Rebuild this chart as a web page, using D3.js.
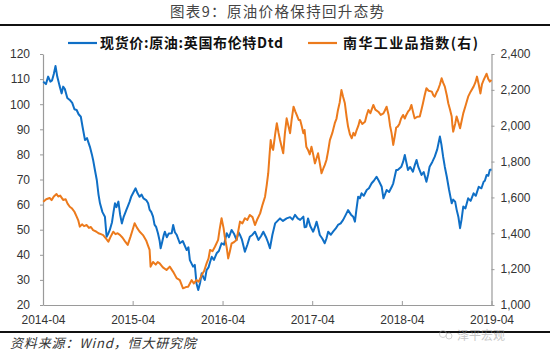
<!DOCTYPE html>
<html><head><meta charset="utf-8">
<script src="https://cdn.jsdelivr.net/npm/d3@7"></script>
<style>
html,body{margin:0;padding:0;background:#fff;}
svg{display:block;}
</style></head>
<body>
<svg id="chart" width="550" height="356"></svg>
<script>
// ---- data ----
const titleText = "图表9：原油价格保持回升态势";
const sourceText = "资料来源：Wind，恒大研究院";
const seriesNames = ["现货价:原油:英国布伦特Dtd", "南华工业品指数(右)"];
const xTickLabels = ["2014-04","2015-04","2016-04","2017-04","2018-04","2019-04"];
const leftTicks = [20,30,40,50,60,70,80,90,100,110,120];
const rightTicks = [1000,1200,1400,1600,1800,2000,2200,2400];

const brent = [["2014-04-02",109],["2014-04-13",108],["2014-04-22",111],["2014-05-01",109],["2014-05-08",109.5],["2014-05-15",112],["2014-05-22",115.2],["2014-05-29",111],["2014-06-07",107.5],["2014-06-16",104.3],["2014-06-22",107],["2014-06-29",106],["2014-07-09",102.5],["2014-07-19",101.7],["2014-07-29",100.5],["2014-08-07",98],["2014-08-16",97.7],["2014-08-24",96],["2014-09-02",95],["2014-09-09",91],["2014-09-19",85.7],["2014-09-27",86.5],["2014-10-09",83],["2014-10-17",80],["2014-10-22",77.8],["2014-10-29",74],["2014-11-06",69.8],["2014-11-13",64],["2014-11-19",60.5],["2014-11-29",57],["2014-12-09",55.2],["2014-12-16",47.2],["2014-12-23",48.5],["2014-12-29",49.9],["2015-01-07",53],["2015-01-13",57],["2015-01-19",60.5],["2015-01-25",59],["2015-02-02",61.2],["2015-02-09",56],["2015-02-16",52.5],["2015-02-23",55],["2015-03-01",56.5],["2015-03-06",57.8],["2015-03-13",59.5],["2015-03-19",61],["2015-03-26",63.1],["2015-04-05",65],["2015-04-13",66.5],["2015-04-21",64.5],["2015-04-29",63.1],["2015-05-07",64],["2015-05-15",62.5],["2015-05-26",61.8],["2015-06-03",60.5],["2015-06-09",58],["2015-06-16",57],["2015-06-23",55.2],["2015-06-29",52],["2015-07-06",51],["2015-07-13",48.6],["2015-07-20",45.5],["2015-07-24",42.6],["2015-07-30",45],["2015-08-06",48],["2015-08-10",49.2],["2015-08-18",47],["2015-08-26",48.5],["2015-09-07",48.6],["2015-09-13",51.9],["2015-09-20",49],["2015-09-27",48],["2015-10-10",44.6],["2015-10-22",45.5],["2015-11-07",41.9],["2015-11-14",43],["2015-11-20",37.9],["2015-12-03",35.3],["2015-12-10",36],["2015-12-17",28.6],["2015-12-24",26],["2016-01-01",29],["2016-01-07",32.6],["2016-01-14",31],["2016-01-20",30],["2016-01-27",33.9],["2016-02-04",35],["2016-02-10",37],["2016-02-17",39.2],["2016-02-26",38],["2016-03-08",40.6],["2016-03-17",41.5],["2016-03-28",44.6],["2016-04-07",44],["2016-04-18",48.6],["2016-04-27",47],["2016-05-08",49.9],["2016-05-17",48.5],["2016-05-28",45.9],["2016-06-05",49],["2016-06-11",47.9],["2016-06-19",46],["2016-07-01",41.2],["2016-07-11",44],["2016-07-21",47.2],["2016-08-01",48],["2016-08-11",49.2],["2016-08-25",45.9],["2016-09-05",47.5],["2016-09-14",49.2],["2016-09-25",47],["2016-10-03",45],["2016-10-11",42.6],["2016-10-21",48],["2016-11-01",52.5],["2016-11-11",53.5],["2016-11-21",54.5],["2016-12-03",53.5],["2016-12-18",54.5],["2017-01-01",55],["2017-01-11",54],["2017-01-21",55.9],["2017-02-01",54.5],["2017-02-11",53.9],["2017-02-24",55.2],["2017-03-01",51],["2017-03-08",51.2],["2017-03-15",54.5],["2017-03-24",51.5],["2017-04-05",49.2],["2017-04-12",51],["2017-04-19",53.2],["2017-04-26",50.5],["2017-05-02",47.9],["2017-05-12",46.5],["2017-05-22",44.6],["2017-05-29",46.5],["2017-06-05",49.2],["2017-06-16",48],["2017-06-25",49.2],["2017-07-06",50.5],["2017-07-15",51.9],["2017-07-26",52.5],["2017-08-05",53.9],["2017-08-16",56],["2017-08-25",57.8],["2017-09-06",56],["2017-09-15",55.2],["2017-09-22",53.2],["2017-09-28",58],["2017-10-05",63.1],["2017-10-12",62.5],["2017-10-19",64.5],["2017-10-28",63.5],["2017-11-09",65.8],["2017-11-18",66.5],["2017-11-29",68.5],["2017-12-08",69.5],["2017-12-19",71.1],["2017-12-28",69.5],["2018-01-09",67.1],["2018-01-16",62.5],["2018-01-22",64],["2018-01-29",65.8],["2018-02-08",65],["2018-02-19",67.1],["2018-02-25",68.5],["2018-03-09",73.8],["2018-03-15",73.8],["2018-03-30",75.1],["2018-04-06",77],["2018-04-13",79.8],["2018-04-19",77],["2018-04-26",73.8],["2018-05-05",75],["2018-05-16",73.1],["2018-05-23",75.5],["2018-05-31",77.8],["2018-06-07",75],["2018-06-20",71.8],["2018-06-29",73],["2018-07-10",69.1],["2018-07-17",72],["2018-07-23",75.1],["2018-08-03",77],["2018-08-13",79.1],["2018-08-23",82],["2018-09-03",87.1],["2018-09-09",84],["2018-09-16",79.1],["2018-09-23",75],["2018-10-01",71.1],["2018-10-10",66],["2018-10-21",60.5],["2018-10-27",62],["2018-11-04",61.2],["2018-11-10",58],["2018-11-17",55.2],["2018-11-24",50.6],["2018-11-30",54],["2018-12-07",59.2],["2018-12-16",58.5],["2018-12-27",62.5],["2019-01-06",61.5],["2019-01-18",64.5],["2019-01-27",63.5],["2019-02-08",67.1],["2019-02-19",66.5],["2019-02-28",69.1],["2019-03-05",69.5],["2019-03-12",71.8],["2019-03-19",71.5],["2019-03-25",73.8],["2019-04-01",74]];

const nanhua = [["2014-04-02",1576],["2014-04-14",1590],["2014-04-28",1597],["2014-05-06",1585],["2014-05-15",1605],["2014-05-26",1619],["2014-06-02",1605],["2014-06-10",1610],["2014-06-22",1586],["2014-07-02",1590],["2014-07-10",1565],["2014-07-19",1548],["2014-07-27",1540],["2014-08-07",1520],["2014-08-16",1493],["2014-08-23",1470],["2014-08-29",1437],["2014-09-07",1450],["2014-09-15",1440],["2014-09-26",1446],["2014-10-05",1430],["2014-10-13",1435],["2014-10-22",1418],["2014-11-03",1410],["2014-11-13",1400],["2014-11-23",1395],["2014-12-02",1390],["2014-12-11",1375],["2014-12-23",1353],["2015-01-01",1380],["2015-01-12",1409],["2015-01-21",1395],["2015-01-30",1400],["2015-02-09",1390],["2015-02-19",1375],["2015-03-01",1355],["2015-03-12",1335],["2015-03-23",1380],["2015-04-01",1420],["2015-04-09",1456],["2015-04-19",1430],["2015-04-29",1410],["2015-05-13",1390],["2015-05-26",1360],["2015-06-03",1330],["2015-06-09",1307],["2015-06-13",1214],["2015-06-23",1240],["2015-07-04",1225],["2015-07-12",1240],["2015-07-20",1232],["2015-08-02",1210],["2015-08-17",1195],["2015-08-30",1214],["2015-09-13",1185],["2015-09-27",1150],["2015-10-10",1139],["2015-10-23",1093],["2015-11-04",1100],["2015-11-13",1102],["2015-11-20",1120],["2015-11-27",1139],["2015-12-06",1120],["2015-12-17",1139],["2015-12-26",1130],["2016-01-07",1167],["2016-01-17",1190],["2016-01-27",1232],["2016-02-04",1260],["2016-02-10",1307],["2016-02-20",1300],["2016-03-01",1325],["2016-03-14",1363],["2016-03-20",1420],["2016-03-28",1484],["2016-04-05",1430],["2016-04-10",1381],["2016-04-18",1320],["2016-04-24",1260],["2016-05-01",1300],["2016-05-08",1344],["2016-05-17",1350],["2016-05-28",1363],["2016-06-05",1420],["2016-06-11",1465],["2016-06-21",1455],["2016-07-01",1484],["2016-07-11",1475],["2016-07-21",1502],["2016-08-01",1490],["2016-08-11",1446],["2016-08-21",1480],["2016-09-01",1511],["2016-09-11",1560],["2016-09-21",1604],["2016-09-28",1670],["2016-10-04",1735],["2016-10-09",1830],["2016-10-14",1920],["2016-10-19",1880],["2016-10-24",1865],["2016-11-01",1950],["2016-11-08",2014],["2016-11-15",1960],["2016-11-21",1920],["2016-11-28",1880],["2016-12-04",1846],["2016-12-11",1960],["2016-12-18",2041],["2016-12-25",2000],["2017-01-01",1958],["2017-01-07",2030],["2017-01-15",2106],["2017-01-22",2080],["2017-01-28",2060],["2017-02-05",2032],["2017-02-11",2032],["2017-02-17",2000],["2017-02-24",1958],["2017-03-01",1976],["2017-03-08",1883],["2017-03-15",1865],["2017-03-22",1840],["2017-03-29",1883],["2017-04-05",1840],["2017-04-12",1790],["2017-04-19",1820],["2017-04-25",1846],["2017-05-02",1790],["2017-05-09",1735],["2017-05-16",1760],["2017-05-22",1780],["2017-05-29",1809],["2017-06-05",1860],["2017-06-12",1920],["2017-06-22",1960],["2017-07-02",2014],["2017-07-09",2040],["2017-07-15",2088],["2017-07-22",2130],["2017-07-29",2199],["2017-08-05",2160],["2017-08-12",2125],["2017-08-19",2050],["2017-08-25",1995],["2017-09-02",1950],["2017-09-09",1930],["2017-09-16",1960],["2017-09-22",1945],["2017-09-29",1976],["2017-10-06",2000],["2017-10-12",2032],["2017-10-22",2010],["2017-11-02",2022],["2017-11-09",2060],["2017-11-16",2088],["2017-11-24",2070],["2017-12-06",2116],["2017-12-14",2090],["2017-12-26",2078],["2018-01-05",2060],["2018-01-16",2069],["2018-01-22",2085],["2018-01-29",2106],["2018-02-06",2060],["2018-02-12",2000],["2018-02-18",1960],["2018-02-25",1893],["2018-03-03",1940],["2018-03-09",1990],["2018-03-15",1995],["2018-03-22",2010],["2018-03-29",2040],["2018-04-06",2060],["2018-04-13",2040],["2018-04-19",2060],["2018-04-26",2078],["2018-05-03",2090],["2018-05-10",2116],["2018-05-16",2080],["2018-05-23",2041],["2018-06-03",2050],["2018-06-13",2051],["2018-06-20",2090],["2018-06-26",2125],["2018-07-03",2170],["2018-07-10",2209],["2018-07-19",2195],["2018-08-01",2190],["2018-08-07",2170],["2018-08-13",2162],["2018-08-20",2185],["2018-08-26",2199],["2018-09-03",2230],["2018-09-10",2265],["2018-09-16",2240],["2018-09-23",2218],["2018-10-01",2170],["2018-10-07",2125],["2018-10-14",2090],["2018-10-21",2051],["2018-10-24",2000],["2018-10-27",1967],["2018-11-04",2010],["2018-11-10",2051],["2018-11-17",2020],["2018-11-24",1986],["2018-12-01",2030],["2018-12-07",2069],["2018-12-16",2110],["2018-12-27",2162],["2019-01-06",2190],["2019-01-18",2218],["2019-01-25",2240],["2019-02-01",2274],["2019-02-08",2230],["2019-02-15",2180],["2019-02-21",2230],["2019-02-28",2255],["2019-03-05",2270],["2019-03-12",2290],["2019-03-19",2260],["2019-03-25",2246],["2019-04-01",2255]];

// ---- drawing ----
const parse = d3.timeParse("%Y-%m-%d");
const parseM = d3.timeParse("%Y-%m");
const svg = d3.select("#chart");
const BLUE = "#0F6FC6", ORANGE = "#EC7A1C", AXIS = "#9a9a9a";
const FONT = "'Liberation Sans', Arial, sans-serif";
const CJK = "'Noto Sans CJK SC', sans-serif";

const x = d3.scaleTime().domain([parseM("2014-04"), parseM("2019-04")]).range([43, 491.5]);
const yL = d3.scaleLinear().domain([20, 120]).range([305, 54]);
const yR = d3.scaleLinear().domain([1000, 2400]).range([305, 54]);

// title
svg.append("text").attr("x", 277).attr("y", 17).attr("text-anchor", "middle")
  .attr("font-family", CJK).attr("font-size", 14.5).attr("fill", "#444")
  .attr("textLength", 214).attr("lengthAdjust", "spacing").text(titleText);
svg.append("line").attr("x1", 0).attr("x2", 550).attr("y1", 25).attr("y2", 25)
  .attr("stroke", "#111").attr("stroke-width", 2);

// legend
const leg = [{x1: 68, x2: 97, tx: 100, tl: 183, c: BLUE, t: seriesNames[0]},
             {x1: 308, x2: 337, tx: 343, tl: 135, c: ORANGE, t: seriesNames[1]}];
leg.forEach(l => {
  svg.append("line").attr("x1", l.x1).attr("x2", l.x2).attr("y1", 43).attr("y2", 43)
    .attr("stroke", l.c).attr("stroke-width", 2.2);
  svg.append("text").attr("x", l.tx).attr("y", 48).attr("font-family", CJK)
    .attr("font-weight", "bold").attr("font-size", 14).attr("fill", "#111")
    .attr("textLength", l.tl).attr("lengthAdjust", "spacing").text(l.t);
});

// axes
const gL = svg.append("g").attr("transform", "translate(43,0)")
  .call(d3.axisLeft(yL).tickValues(leftTicks).tickSizeInner(3).tickSizeOuter(0).tickPadding(10));
const gR = svg.append("g").attr("transform", "translate(491.5,0)")
  .call(d3.axisRight(yR).tickValues(rightTicks).tickFormat(d3.format(",")).tickSizeInner(3).tickSizeOuter(0).tickPadding(6));
const gB = svg.append("g").attr("transform", "translate(0,305)")
  .call(d3.axisBottom(x).tickValues(xTickLabels.map(parseM)).tickFormat(d3.timeFormat("%Y-%m"))
    .tickSizeInner(-4).tickSizeOuter(0).tickPadding(10));
[gL, gR, gB].forEach(g => {
  g.select(".domain").attr("stroke", AXIS).attr("stroke-width", 1.2);
  g.selectAll(".tick line").attr("stroke", AXIS);
  g.selectAll("text").attr("font-family", FONT).attr("font-size", 12).attr("fill", "#333");
});

// lines
const lineL = d3.line().x(d => x(parse(d[0]))).y(d => yL(d[1]));
const lineR = d3.line().x(d => x(parse(d[0]))).y(d => yR(d[1]));
svg.append("path").datum(brent).attr("d", lineL).attr("fill", "none")
  .attr("stroke", BLUE).attr("stroke-width", 2).attr("stroke-linejoin", "round");
svg.append("path").datum(nanhua).attr("d", lineR).attr("fill", "none")
  .attr("stroke", ORANGE).attr("stroke-width", 2).attr("stroke-linejoin", "round");

// bottom rule + source
svg.append("line").attr("x1", 0).attr("x2", 550).attr("y1", 332).attr("y2", 332)
  .attr("stroke", "#111").attr("stroke-width", 2);
svg.append("text").attr("x", 10).attr("y", 348).attr("font-family", CJK)
  .attr("font-style", "italic").attr("font-size", 13).attr("fill", "#333")
  .attr("textLength", 186).attr("lengthAdjust", "spacing").text(sourceText);

// watermark
const wm = svg.append("g").attr("opacity", 0.55);
wm.append("circle").attr("cx", 443).attr("cy", 334).attr("r", 3.5).attr("fill", "none").attr("stroke", "#aaa");
wm.append("circle").attr("cx", 449).attr("cy", 336).attr("r", 3).attr("fill", "none").attr("stroke", "#aaa");
wm.append("text").attr("x", 457).attr("y", 340).attr("font-family", CJK).attr("font-size", 12)
  .attr("fill", "#999").text("泽平宏观");
</script>
</body></html>
